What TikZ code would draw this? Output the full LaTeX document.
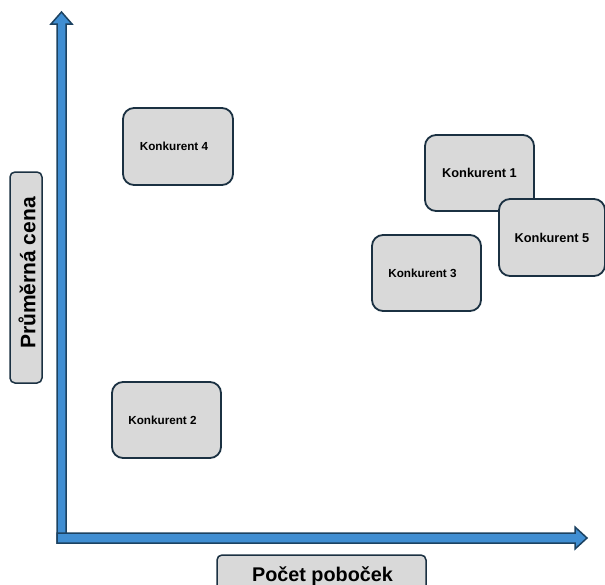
\documentclass[tikz,border=0pt]{standalone}
\usepackage{fontspec}
\setmainfont{Liberation Sans}
\definecolor{boxfill}{HTML}{D9D9D9}
\definecolor{boxline}{HTML}{1B3142}
\definecolor{axisfill}{HTML}{408ED2}
\definecolor{axisline}{HTML}{1C4261}
\tikzset{
  axisarrow/.style={fill=axisfill, draw=axisline, line width=1.5pt, line join=miter},
  compbox/.style={draw=boxline, fill=boxfill, line width=1.8pt, rounded corners=11pt,
    minimum width=109pt, minimum height=76pt, inner sep=0pt},
  smalltext/.style={font=\bfseries\fontsize{11.7}{13}\selectfont},
  bigtext/.style={font=\bfseries\fontsize{12.8}{14}\selectfont},
  axislabel/.style={draw=boxline, fill=boxfill, line width=1.5pt, rounded corners=5pt,
    inner sep=0pt},
  labeltext/.style={font=\bfseries\fontsize{19.8}{22}\selectfont}
}
\begin{document}
\begin{tikzpicture}[x=1pt, y=-1pt]
\useasboundingbox (0,0) rectangle (605,584);
% vertical axis (price)
\draw[axisarrow] (57,543) -- (57,24) -- (51,24) -- (61.5,12) -- (72,24) -- (66,24) -- (66,543) -- cycle;
% horizontal axis (branches)
\draw[axisarrow] (57,533) -- (575,533) -- (575,527) -- (587,538) -- (575,549) -- (575,543) -- (57,543) -- cycle;
% competitors
\node[compbox, minimum width=110pt, minimum height=77pt] (k4) at (178,146.5) {};
\node[smalltext] (k4t) at ([xshift=-4pt]k4.center) {Konkurent 4};
\node[compbox] (k2) at (166.5,420) {};
\node[smalltext] (k2t) at ([xshift=-4pt]k2.center) {Konkurent 2};
\node[compbox] (k3) at (426.5,273) {};
\node[smalltext] (k3t) at ([xshift=-4pt]k3.center) {Konkurent 3};
\node[compbox, bigtext] (k1) at (479.5,173) {Konkurent 1};
\node[compbox, bigtext, minimum width=106pt, minimum height=77pt] (k5) at (552,237.5) {Konkurent 5};
% axis labels
\node[axislabel, rotate=90, minimum width=211pt, minimum height=32pt] (ylab) at (26,277.5) {};
\node[labeltext, font=\bfseries\fontsize{21}{24}\selectfont, rotate=90] (ylabt) at (27,273) {Průměrná cena};
\node[axislabel, minimum width=209pt, minimum height=40pt] (xlab) at (321.5,575) {};
\node[labeltext, anchor=base] (xlabt) at (322.5,581) {Počet poboček};
\end{tikzpicture}
\end{document}
